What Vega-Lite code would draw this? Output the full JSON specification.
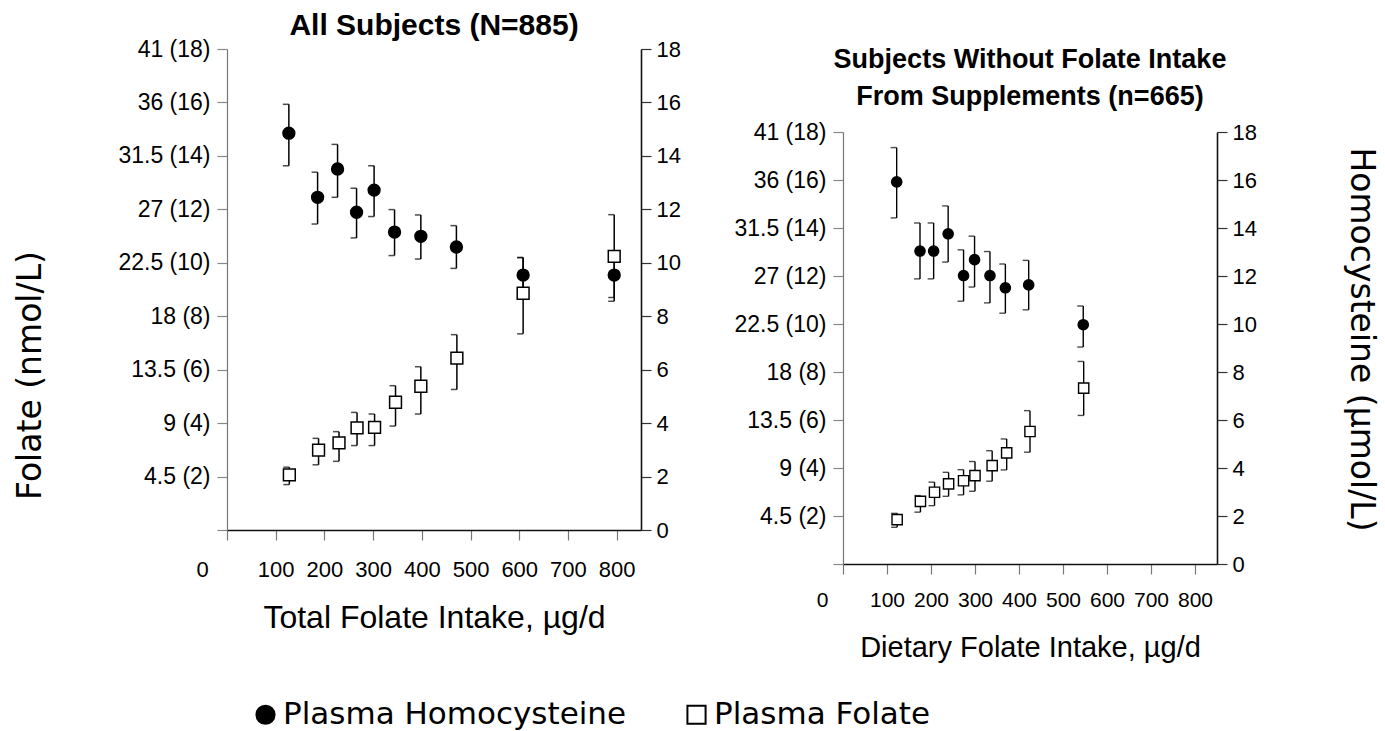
{
  "$schema": "https://vega.github.io/schema/vega-lite/v6.json",
  "padding": {"left": 14, "top": 11, "right": 5, "bottom": 5},
  "background": "white",
  "config": {
    "view": {"stroke": null},
    "font": "Liberation Sans",
    "axis": {"labelColor": "black", "titleColor": "black", "grid": false, "labelFont": "Liberation Sans"},
    "title": {"color": "black"},
    "legend": {"labelLimit": 0}
  },
  "datasets": {
    "pts": [
      {"panel": "all", "series": "Plasma Homocysteine", "intake": 127, "value": 14.85, "lo": 13.63, "hi": 15.93},
      {"panel": "all", "series": "Plasma Homocysteine", "intake": 186, "value": 12.45, "lo": 11.45, "hi": 13.39},
      {"panel": "all", "series": "Plasma Homocysteine", "intake": 227, "value": 13.51, "lo": 12.45, "hi": 14.43},
      {"panel": "all", "series": "Plasma Homocysteine", "intake": 266, "value": 11.89, "lo": 10.93, "hi": 12.79},
      {"panel": "all", "series": "Plasma Homocysteine", "intake": 302, "value": 12.72, "lo": 11.73, "hi": 13.63},
      {"panel": "all", "series": "Plasma Homocysteine", "intake": 344, "value": 11.15, "lo": 10.27, "hi": 11.99},
      {"panel": "all", "series": "Plasma Homocysteine", "intake": 398, "value": 10.99, "lo": 10.14, "hi": 11.79},
      {"panel": "all", "series": "Plasma Homocysteine", "intake": 471, "value": 10.59, "lo": 9.79, "hi": 11.39},
      {"panel": "all", "series": "Plasma Homocysteine", "intake": 608, "value": 9.54, "lo": 8.89, "hi": 10.19},
      {"panel": "all", "series": "Plasma Homocysteine", "intake": 795, "value": 9.54, "lo": 8.56, "hi": 10.3},
      {"panel": "all", "series": "Plasma Folate", "intake": 128, "value": 2.06, "lo": 1.7, "hi": 2.35},
      {"panel": "all", "series": "Plasma Folate", "intake": 188, "value": 2.99, "lo": 2.44, "hi": 3.43},
      {"panel": "all", "series": "Plasma Folate", "intake": 230, "value": 3.26, "lo": 2.57, "hi": 3.68},
      {"panel": "all", "series": "Plasma Folate", "intake": 267, "value": 3.82, "lo": 3.16, "hi": 4.4},
      {"panel": "all", "series": "Plasma Folate", "intake": 303, "value": 3.84, "lo": 3.16, "hi": 4.34},
      {"panel": "all", "series": "Plasma Folate", "intake": 346, "value": 4.78, "lo": 3.89, "hi": 5.4},
      {"panel": "all", "series": "Plasma Folate", "intake": 398, "value": 5.38, "lo": 4.34, "hi": 6.11},
      {"panel": "all", "series": "Plasma Folate", "intake": 472, "value": 6.43, "lo": 5.26, "hi": 7.31},
      {"panel": "all", "series": "Plasma Folate", "intake": 608, "value": 8.86, "lo": 7.34, "hi": 10.2},
      {"panel": "all", "series": "Plasma Folate", "intake": 795, "value": 10.24, "lo": 8.7, "hi": 11.8},
      {"panel": "nosupp", "series": "Plasma Homocysteine", "intake": 122, "value": 15.92, "lo": 14.42, "hi": 17.35},
      {"panel": "nosupp", "series": "Plasma Homocysteine", "intake": 175, "value": 13.04, "lo": 11.88, "hi": 14.21},
      {"panel": "nosupp", "series": "Plasma Homocysteine", "intake": 206, "value": 13.04, "lo": 11.88, "hi": 14.21},
      {"panel": "nosupp", "series": "Plasma Homocysteine", "intake": 239, "value": 13.76, "lo": 12.58, "hi": 14.92},
      {"panel": "nosupp", "series": "Plasma Homocysteine", "intake": 274, "value": 12.02, "lo": 10.95, "hi": 13.09},
      {"panel": "nosupp", "series": "Plasma Homocysteine", "intake": 299, "value": 12.68, "lo": 11.54, "hi": 13.66},
      {"panel": "nosupp", "series": "Plasma Homocysteine", "intake": 334, "value": 12.02, "lo": 10.88, "hi": 13.02},
      {"panel": "nosupp", "series": "Plasma Homocysteine", "intake": 369, "value": 11.51, "lo": 10.45, "hi": 12.5},
      {"panel": "nosupp", "series": "Plasma Homocysteine", "intake": 422, "value": 11.63, "lo": 10.59, "hi": 12.65},
      {"panel": "nosupp", "series": "Plasma Homocysteine", "intake": 546, "value": 9.97, "lo": 9.04, "hi": 10.75},
      {"panel": "nosupp", "series": "Plasma Folate", "intake": 123, "value": 1.85, "lo": 1.53, "hi": 2.11},
      {"panel": "nosupp", "series": "Plasma Folate", "intake": 176, "value": 2.61, "lo": 2.16, "hi": 2.85},
      {"panel": "nosupp", "series": "Plasma Folate", "intake": 208, "value": 2.99, "lo": 2.43, "hi": 3.41},
      {"panel": "nosupp", "series": "Plasma Folate", "intake": 240, "value": 3.34, "lo": 2.82, "hi": 3.82},
      {"panel": "nosupp", "series": "Plasma Folate", "intake": 274, "value": 3.47, "lo": 2.88, "hi": 3.93},
      {"panel": "nosupp", "series": "Plasma Folate", "intake": 300, "value": 3.68, "lo": 3.03, "hi": 4.27},
      {"panel": "nosupp", "series": "Plasma Folate", "intake": 339, "value": 4.1, "lo": 3.45, "hi": 4.72},
      {"panel": "nosupp", "series": "Plasma Folate", "intake": 372, "value": 4.63, "lo": 3.92, "hi": 5.21},
      {"panel": "nosupp", "series": "Plasma Folate", "intake": 425, "value": 5.52, "lo": 4.66, "hi": 6.39},
      {"panel": "nosupp", "series": "Plasma Folate", "intake": 547, "value": 7.33, "lo": 6.19, "hi": 8.44}
    ]
  },
  "spacing": 52,
  "hconcat": [
    {
      "width": 414,
      "height": 481,
      "title": {"text": "All Subjects (N=885)", "font": "Liberation Sans", "fontSize": 30, "fontWeight": "bold", "offset": -3},
      "data": {"name": "pts"},
      "transform": [{"filter": "datum.panel === 'all'"}],
      "encoding": {
        "x": {
          "field": "intake", "type": "quantitative",
          "scale": {"domain": [0, 850], "nice": false},
          "axis": {
            "values": [0, 100, 200, 300, 400, 500, 600, 700, 800],
            "title": "Total Folate Intake, µg/d",
            "titleFont": "Liberation Sans", "titleFontSize": 32, "titleFontWeight": "normal", "titlePadding": 22,
            "labelFontSize": 22, "labelFlush": false, "labelOverlap": false, "labelPadding": 19,
            "labelOffset": {"condition": {"test": "datum.value === 0", "value": -25}, "value": 0},
            "tickSize": 10, "tickColor": "#777777", "tickWidth": 1.2,
            "domainColor": "#111111", "domainWidth": 1.6
          }
        }
      },
      "layer": [
        {
          "mark": {"type": "rule", "color": "black", "strokeWidth": 1.5},
          "encoding": {
            "y": {
              "field": "lo", "type": "quantitative",
              "scale": {"domain": [0, 18], "nice": false},
              "axis": {
                "orient": "left",
                "values": [0, 2, 4, 6, 8, 10, 12, 14, 16, 18],
                "labelExpr": "datum.value === 0 ? '' : (datum.value === 18 ? '41' : '' + (datum.value * 2.25)) + ' (' + datum.value + ')'",
                "labelFontSize": 23, "labelPadding": 7,
                "tickSize": 10, "tickColor": "#888888", "tickWidth": 1.2,
                "domainColor": "#777777", "domainWidth": 1.2,
                "title": "Folate (nmol/L)",
                "titleFont": "DejaVu Sans", "titleFontSize": 33, "titleFontWeight": "normal",
                "titleX": -180, "titleY": 326
              }
            },
            "y2": {"field": "hi"}
          }
        },
        {
          "mark": {"type": "tick", "orient": "horizontal", "color": "black", "size": 6, "thickness": 1.5, "xOffset": -3},
          "encoding": {
            "y": {"field": "hi", "type": "quantitative", "scale": {"domain": [0, 18], "nice": false}, "axis": null}
          }
        },
        {
          "mark": {"type": "tick", "orient": "horizontal", "color": "black", "size": 6, "thickness": 1.5, "xOffset": -3},
          "encoding": {
            "y": {"field": "lo", "type": "quantitative", "scale": {"domain": [0, 18], "nice": false}, "axis": null}
          }
        },
        {
          "mark": {"type": "point", "filled": true, "size": 140, "stroke": "black", "strokeWidth": 1.5, "opacity": 1},
          "encoding": {
            "y": {
              "field": "value", "type": "quantitative",
              "scale": {"domain": [0, 18], "nice": false},
              "axis": {
                "orient": "right",
                "values": [0, 2, 4, 6, 8, 10, 12, 14, 16, 18],
                "labelFontSize": 22, "labelPadding": 5,
                "tickSize": 10, "tickColor": "#333333", "tickWidth": 1.2,
                "domainColor": "#111111", "domainWidth": 1.6,
                "title": null
              }
            },
            "shape": {
              "field": "series", "type": "nominal",
              "scale": {"domain": ["Plasma Homocysteine", "Plasma Folate"], "range": ["circle", "square"]},
              "legend": {"title": null, "orient": "none", "legendX": 23, "legendY": 650, "direction": "horizontal", "labelFont": "DejaVu Sans", "labelFontSize": 31, "labelColor": "black", "labelLimit": 0, "symbolSize": 330, "symbolStrokeWidth": 2, "symbolStrokeColor": "black", "symbolOpacity": 1, "labelOffset": 2, "columnPadding": 54, "padding": 0, "encode": {"symbols": {"update": {"stroke": {"value": "black"}, "strokeWidth": {"value": 2}}}}}
            },
            "fill": {
              "field": "series", "type": "nominal",
              "scale": {"domain": ["Plasma Homocysteine", "Plasma Folate"], "range": ["black", "white"]},
              "legend": {"title": null, "orient": "none", "legendX": 23, "legendY": 650, "direction": "horizontal", "labelFont": "DejaVu Sans", "labelFontSize": 31, "labelColor": "black", "labelLimit": 0, "symbolSize": 330, "symbolStrokeWidth": 2, "symbolStrokeColor": "black", "symbolOpacity": 1, "labelOffset": 2, "columnPadding": 54, "padding": 0, "encode": {"symbols": {"update": {"stroke": {"value": "black"}, "strokeWidth": {"value": 2}}}}}
            }
          }
        }
      ],
      "resolve": {"scale": {"y": "independent"}}
    },
    {
      "width": 374,
      "height": 515,
      "title": {"text": ["Subjects Without Folate Intake", "From Supplements (n=665)"], "font": "Liberation Sans", "fontSize": 27, "fontWeight": "bold", "lineHeight": 37, "offset": -62},
      "data": {"name": "pts"},
      "transform": [{"filter": "datum.panel === 'nosupp'"}],
      "encoding": {
        "x": {
          "field": "intake", "type": "quantitative",
          "scale": {"domain": [0, 850], "nice": false},
          "axis": {
            "values": [0, 100, 200, 300, 400, 500, 600, 700, 800],
            "title": "Dietary Folate Intake, µg/d",
            "titleFont": "Liberation Sans", "titleFontSize": 29, "titleFontWeight": "normal", "titlePadding": 23,
            "labelFontSize": 21, "labelFlush": false, "labelOverlap": false, "labelPadding": 15,
            "labelOffset": {"condition": {"test": "datum.value === 0", "value": -21}, "value": 0},
            "tickSize": 10, "tickColor": "#777777", "tickWidth": 1.2,
            "domainColor": "#111111", "domainWidth": 1.6
          }
        }
      },
      "layer": [
        {
          "mark": {"type": "rule", "color": "black", "strokeWidth": 1.4},
          "encoding": {
            "y": {
              "field": "lo", "type": "quantitative",
              "scale": {"domain": [0, 18], "nice": false, "rangeMax": 83},
              "axis": {
                "orient": "left",
                "values": [0, 2, 4, 6, 8, 10, 12, 14, 16, 18],
                "labelExpr": "datum.value === 0 ? '' : (datum.value === 18 ? '41' : '' + (datum.value * 2.25)) + ' (' + datum.value + ')'",
                "labelFontSize": 23, "labelPadding": 7,
                "tickSize": 10, "tickColor": "#888888", "tickWidth": 1.2,
                "domainColor": "#777777", "domainWidth": 1.2,
                "title": null
              }
            },
            "y2": {"field": "hi"}
          }
        },
        {
          "mark": {"type": "tick", "orient": "horizontal", "color": "black", "size": 6, "thickness": 1.4, "xOffset": -3},
          "encoding": {
            "y": {"field": "hi", "type": "quantitative", "scale": {"domain": [0, 18], "nice": false, "rangeMax": 83}, "axis": null}
          }
        },
        {
          "mark": {"type": "tick", "orient": "horizontal", "color": "black", "size": 6, "thickness": 1.4, "xOffset": -3},
          "encoding": {
            "y": {"field": "lo", "type": "quantitative", "scale": {"domain": [0, 18], "nice": false, "rangeMax": 83}, "axis": null}
          }
        },
        {
          "mark": {"type": "point", "filled": true, "size": 105, "stroke": "black", "strokeWidth": 1.4, "opacity": 1},
          "encoding": {
            "y": {
              "field": "value", "type": "quantitative",
              "scale": {"domain": [0, 18], "nice": false, "rangeMax": 83},
              "axis": {
                "orient": "right",
                "values": [0, 2, 4, 6, 8, 10, 12, 14, 16, 18],
                "labelFontSize": 22, "labelPadding": 5,
                "tickSize": 10, "tickColor": "#333333", "tickWidth": 1.2,
                "domainColor": "#111111", "domainWidth": 1.6,
                "title": "Homocysteine (µmol/L)",
                "titleFont": "DejaVu Sans", "titleFontSize": 33, "titleFontWeight": "normal",
                "titleAngle": 90, "titleX": 126, "titleY": 290
              }
            },
            "shape": {
              "field": "series", "type": "nominal",
              "scale": {"domain": ["Plasma Homocysteine", "Plasma Folate"], "range": ["circle", "square"]},
              "legend": {"title": null, "orient": "none", "legendX": 23, "legendY": 650, "direction": "horizontal", "labelFont": "DejaVu Sans", "labelFontSize": 31, "labelColor": "black", "labelLimit": 0, "symbolSize": 330, "symbolStrokeWidth": 2, "symbolStrokeColor": "black", "symbolOpacity": 1, "labelOffset": 2, "columnPadding": 54, "padding": 0, "encode": {"symbols": {"update": {"stroke": {"value": "black"}, "strokeWidth": {"value": 2}}}}}
            },
            "fill": {
              "field": "series", "type": "nominal",
              "scale": {"domain": ["Plasma Homocysteine", "Plasma Folate"], "range": ["black", "white"]},
              "legend": {"title": null, "orient": "none", "legendX": 23, "legendY": 650, "direction": "horizontal", "labelFont": "DejaVu Sans", "labelFontSize": 31, "labelColor": "black", "labelLimit": 0, "symbolSize": 330, "symbolStrokeWidth": 2, "symbolStrokeColor": "black", "symbolOpacity": 1, "labelOffset": 2, "columnPadding": 54, "padding": 0, "encode": {"symbols": {"update": {"stroke": {"value": "black"}, "strokeWidth": {"value": 2}}}}}
            }
          }
        }
      ],
      "resolve": {"scale": {"y": "independent"}}
    }
  ]
}
